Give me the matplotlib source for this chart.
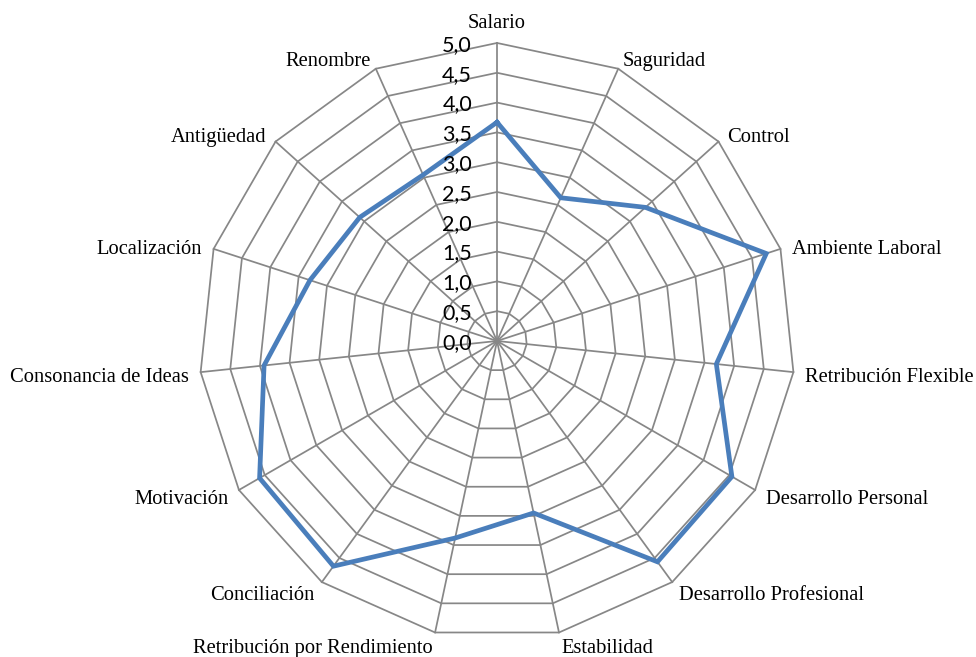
import numpy as np
import matplotlib
matplotlib.use("Agg")
import matplotlib.pyplot as plt

# Factors rated on a 0-5 scale, clockwise from the top
categories = [
    "Salario", "Saguridad", "Control", "Ambiente Laboral",
    "Retribución Flexible", "Desarrollo Personal", "Desarrollo Profesional",
    "Estabilidad", "Retribución por Rendimiento", "Conciliación",
    "Motivación", "Consonancia de Ideas", "Localización", "Antigüedad",
    "Renombre",
]
scores = [3.67, 2.63, 3.35, 4.75, 3.70, 4.55, 4.58, 2.95, 3.38, 4.67,
          4.60, 3.93, 3.30, 3.10, 3.05]
ring_levels = [0.5, 1.0, 1.5, 2.0, 2.5, 3.0, 3.5, 4.0, 4.5, 5.0]
tick_values = [0.0, 0.5, 1.0, 1.5, 2.0, 2.5, 3.0, 3.5, 4.0, 4.5, 5.0]
tick_labels = ["0,0", "0,5", "1,0", "1,5", "2,0", "2,5", "3,0", "3,5",
               "4,0", "4,5", "5,0"]

GRID = "#878787"
LINE = "#4A7EBB"
R_MAX = 5.0

n = len(categories)
angles = np.linspace(0, 2 * np.pi, n, endpoint=False)
closed_angles = np.append(angles, angles[0])

fig = plt.figure(figsize=(9.76, 6.57), dpi=100)
ax = fig.add_axes([0.2039, 0.0274, 0.6107, 0.9072], projection="polar")
ax.set_theta_zero_location("N")
ax.set_theta_direction(-1)
ax.set_ylim(0, R_MAX)
ax.grid(False)
ax.set_xticks([])
ax.set_yticks([])
ax.spines["polar"].set_visible(False)

# polygonal rings
for lvl in ring_levels:
    ax.plot(closed_angles, [lvl] * (n + 1), color=GRID, lw=1.25,
            clip_on=False, zorder=1)
# spokes
for a in angles:
    ax.plot([a, a], [0, R_MAX], color=GRID, lw=1.25, clip_on=False, zorder=1)

# data series
ax.plot(closed_angles, scores + scores[:1], color=LINE, lw=3.4,
        solid_joinstyle="miter", clip_on=False, zorder=3)

# value scale along the vertical axis
for v, lab in zip(tick_values, tick_labels):
    ax.annotate(lab, xy=(0, v), xytext=(-25, -2), textcoords="offset pixels",
                ha="right", va="center", fontsize=15.5, family="Lato",
                color="black", zorder=4, annotation_clip=False)

# category labels just beyond each spoke
for a, name in zip(angles, categories):
    s, c = np.sin(a), np.cos(a)
    if abs(s) < 1e-6:
        ha = "center"
        dist = 23
    else:
        ha = "left" if s > 0 else "right"
        dist = 12
    ax.annotate(name, xy=(a, R_MAX), xytext=(dist * s, dist * c - 4),
                textcoords="offset pixels", ha=ha, va="center",
                fontsize=14.8, family="Liberation Serif", color="black",
                annotation_clip=False)

fig.savefig("out.png", dpi=100, facecolor="white")
